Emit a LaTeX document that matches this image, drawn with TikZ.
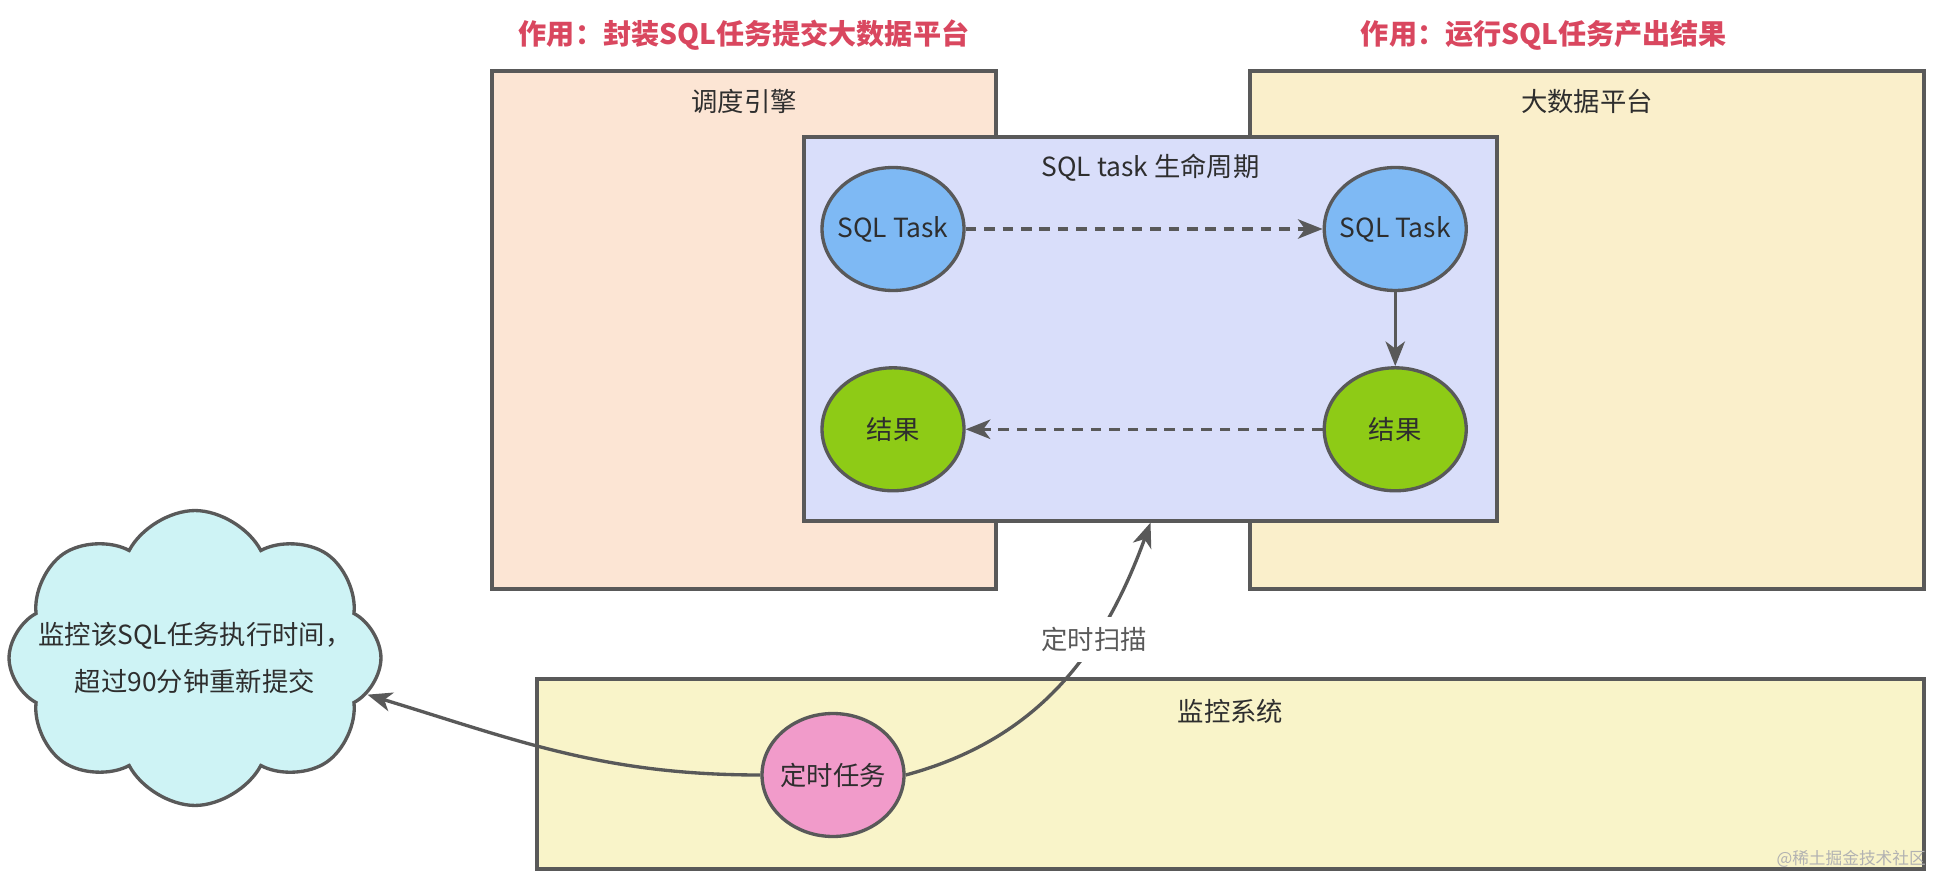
\documentclass[tikz,border=0pt]{standalone}
\usepackage{fontspec}
\setmainfont{Noto Sans CJK SC}
\usetikzlibrary{arrows.meta, positioning, shapes.geometric, shapes.symbols}
\definecolor{mtgray}{HTML}{595959}
\definecolor{mtink}{HTML}{2E2E2E}
\definecolor{mtred}{HTML}{D9475F}
\definecolor{mtpeach}{HTML}{FCE5D4}
\definecolor{mtsand}{HTML}{FAEFCB}
\definecolor{mtlilac}{HTML}{D9DEFA}
\definecolor{mtsky}{HTML}{7EB9F4}
\definecolor{mtleaf}{HTML}{8ECB16}
\definecolor{mtpink}{HTML}{F19BCA}
\definecolor{mtcyan}{HTML}{CEF3F5}
\definecolor{mtlemon}{HTML}{F9F4C9}

\begin{document}
\begin{tikzpicture}[x=0.02cm, y=0.02cm, font=\fontsize{15}{18}\selectfont, text=mtink,
    box/.style={draw=mtgray, line width=1.9pt, inner sep=0pt},
    stage/.style={draw=mtgray, line width=1.9pt, ellipse, minimum width=2.84cm, minimum height=2.46cm, inner ysep=0pt, inner xsep=-0.2cm},
    flow/.style={-{Stealth[length=14pt, width=11pt, inset=4pt]}, line width=1.9pt, mtgray},
    dashflow/.style={flow, dash pattern=on 6pt off 4.5pt},
    roletitle/.style={text=mtred, font=\fontsize{16}{19}\selectfont\bfseries}]
      \useasboundingbox (0,0) rectangle (1939,876);
      % motore di schedulazione
      \node[box, fill=mtpeach, minimum width=10.08cm, minimum height=10.36cm] (engine) at (744,546) {};
      \node (engineLbl) at ([yshift=-0.64cm]engine.north) {调度引擎};
      \node[roletitle] (engineRole) at ([yshift=0.68cm]engine.north) {作用：封装SQL任务提交大数据平台};
      % piattaforma
      \node[box, fill=mtsand, minimum width=13.48cm, minimum height=10.36cm] (platform) at (1587,546) {};
      \node (platformLbl) at ([yshift=-0.64cm]platform.north) {大数据平台};
      \node[roletitle] (platformRole) at ([xshift=-0.86cm, yshift=0.68cm]platform.north) {作用：运行SQL任务产出结果};
      % ciclo di vita
      \node[box, fill=mtlilac, minimum width=13.86cm, minimum height=7.68cm] (life) at (1150.5,547) {};
      \node (lifeLbl) at ([yshift=-0.64cm]life.north) {SQL task 生命周期};
      \node[stage, fill=mtsky] (taskA) at (893,647) {SQL Task};
      \node[stage, fill=mtsky, right=7.14cm of taskA] (taskB) {SQL Task};
      \node[stage, fill=mtleaf, below=1.48cm of taskB] (resB) {结果};
      \node[stage, fill=mtleaf, left=7.14cm of resB] (resA) {结果};
      \draw[dashflow] (taskA) -- (taskB);
      \draw[flow] (taskB) -- (resB);
      \draw[dashflow] (resB) -- (resA);
      % sistema di monitoraggio
      \node[box, fill=mtlemon, minimum width=27.74cm, minimum height=3.8cm] (monitor) at (1230.5,102) {};
      \node (monitorLbl) at ([yshift=-0.68cm]monitor.north) {监控系统};
      % nuvola
      \node[cloud, cloud puffs=8, cloud puff arc=125, draw=mtgray, line width=1.9pt, fill=mtcyan,
            minimum width=7.44cm, minimum height=5.9cm, inner sep=0pt,
            label={[align=center, font=\fontsize{15}{27}\selectfont]center:{监控该SQL任务执行时间，\\超过90分钟重新提交}}] (cloud) at (195,218) {};
      % timer e frecce
      \node[stage, fill=mtpink] (timer) at (833,101) {定时任务};
      \draw[flow] (timer.west) to[out=180, in=-17] (cloud.-12);
      \draw[flow] (timer.east) to[out=15, in=-110] node[pos=0.66, fill=white, inner sep=0.2cm] (scanLbl) {定时扫描} (life.south);
      \node[text=gray!60, font=\fontsize{9.5}{11}\selectfont, anchor=east] (mark) at (1932,17) {@稀土掘金技术社区};
    \end{tikzpicture}
\end{document}
